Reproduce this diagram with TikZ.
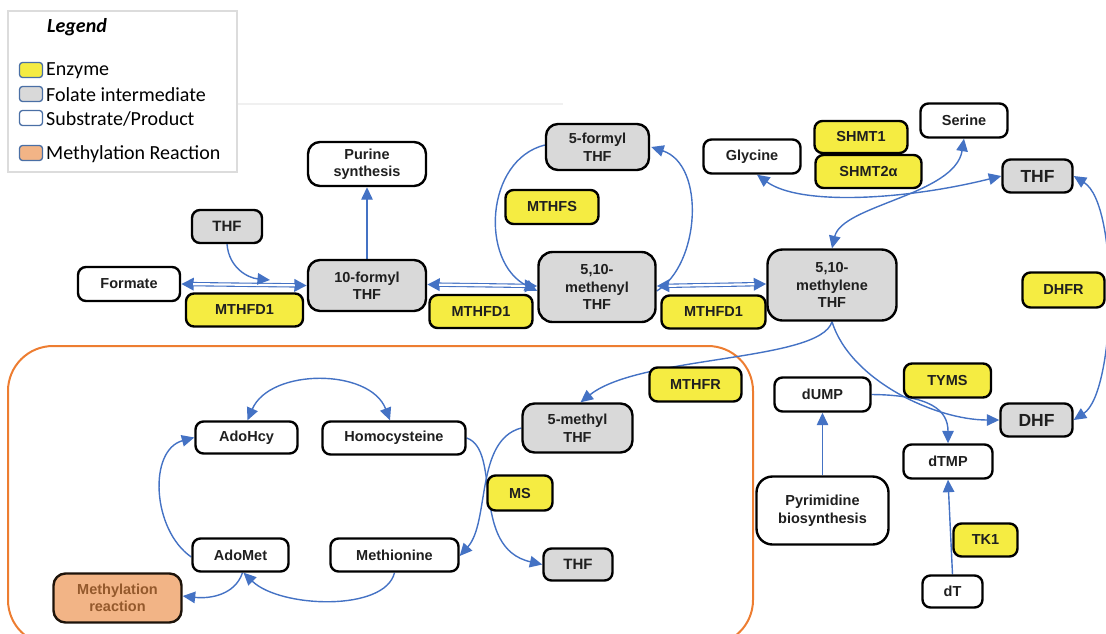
\documentclass[tikz,border=0pt]{standalone}
\usepackage{fontspec}
\setmainfont{Liberation Sans}
\newfontfamily\legendfont{Carlito}
\usetikzlibrary{arrows.meta,backgrounds}

\definecolor{arrowblue}{HTML}{4472C4}
\definecolor{enzyellow}{HTML}{F5EC42}
\definecolor{folgray}{HTML}{D9D9D9}
\definecolor{methfill}{HTML}{F2B486}
\definecolor{methtext}{HTML}{94592C}
\definecolor{boxorange}{HTML}{ED7D31}
\definecolor{legendedge}{HTML}{4A6FA5}
\definecolor{legendframe}{HTML}{DCDCDC}

\tikzset{
  sz/.style 2 args={minimum width=#1pt, minimum height=#2pt},
  base/.style={draw=black, line width=2.4pt, rounded corners=8pt, inner sep=0pt,
    align=center, font=\bfseries\fontsize{14.5}{17.5}\selectfont, text=black!88},
  enz/.style={base, fill=enzyellow},
  fol/.style={base, fill=folgray},
  sub/.style={base, fill=white},
  big/.style={rounded corners=12pt},
  meth/.style={base, fill=methfill, text=methtext, draw=black!85!brown},
  arr/.style={draw=arrowblue, line width=1.4pt, -{Triangle[length=12.5pt,width=11.5pt]}},
  barr/.style={draw=arrowblue, line width=1.4pt,
    {Triangle[length=12.5pt,width=11.5pt]}-{Triangle[length=12.5pt,width=11.5pt]}},
  % two-stroke reversible step: a wide blue stroke with solid heads,
  % then a white core laid along its middle
  dblbase/.style={draw=arrowblue, line width=4.4pt,
    {Triangle[length=12.5pt,width=12pt]}-{Triangle[length=12.5pt,width=12pt]}},
  dblcore/.style={draw=white, line width=2.2pt, shorten <=12pt, shorten >=12pt},
  swatch/.style={draw=legendedge, line width=1.3pt, rounded corners=3pt,
    minimum width=23pt, minimum height=15pt, inner sep=0pt},
  legtext/.style={anchor=west, inner sep=0pt, font=\legendfont\fontsize{20}{21}\selectfont}
}

\begin{document}
\begin{tikzpicture}[x=1pt,y=-1pt]
\useasboundingbox (0,0) rectangle (1106,633);
\clip (0,0) rectangle (1106,633);

% ---- folate cycle ----
\node[sub, sz={102}{34}] (formate) at (129,284) {Formate};
\node[enz, sz={117}{33}] (mthfdA) at (244.5,310) {MTHFD1};
\node[fol, sz={70}{33}, font=\bfseries\fontsize{15}{17}\selectfont] (thfA) at (227,226.5) {THF};
\node[fol, big, sz={118}{51}] (formylten) at (367,285.5) {10-formyl\\THF};
\node[sub, big, sz={118}{44}] (purine) at (367,164) {Purine\\synthesis};
\node[enz, sz={103}{33}] (mthfdB) at (481,311.5) {MTHFD1};
\node[fol, big, sz={117}{70}, rounded corners=14pt] (methenyl) at (597,287) {5,10-\\methenyl\\THF};
\node[fol, big, sz={103}{46}] (formylfive) at (597.5,147) {5-formyl\\THF};
\node[enz, sz={93}{34}] (mthfs) at (552,207) {MTHFS};
\node[enz, sz={104}{33}] (mthfdC) at (713.5,312) {MTHFD1};
\node[fol, big, sz={129}{71}, rounded corners=15pt] (methylene) at (832,285) {5,10-\\methylene\\THF};
\node[sub, sz={97}{34}] (glycine) at (752,156.5) {Glycine};
\node[enz, sz={93}{32}] (shmtone) at (861,137) {SHMT1};
\node[enz, sz={106}{33}] (shmttwo) at (868.5,171.5) {SHMT2α};
\node[sub, sz={87}{34}] (serine) at (964,120.5) {Serine};
\node[fol, sz={70}{33}, font=\bfseries\fontsize{17.5}{19}\selectfont] (thfR) at (1037.5,176) {THF};
\node[enz, sz={82}{35}] (dhfr) at (1063.5,290) {DHFR};
\node[enz, sz={87}{34}] (tyms) at (947.5,380.5) {TYMS};
\node[fol, sz={72}{33}, font=\bfseries\fontsize{17.5}{19}\selectfont] (dhf) at (1036.5,420) {DHF};
\node[sub, sz={96}{34}] (dump) at (822.5,394.5) {dUMP};
\node[sub, sz={89}{34}] (dtmp) at (948,461.5) {dTMP};
\node[sub, big, sz={132}{68}, rounded corners=16pt] (pyrimidine) at (822.5,510.5) {Pyrimidine\\biosynthesis};
\node[enz, sz={64}{33}] (tkone) at (985.5,540) {TK1};
\node[sub, sz={60}{32}] (dthy) at (952.5,591.5) {dT};

% ---- methionine cycle ----
\node[enz, sz={92}{34}] (mthfr) at (695.5,384.5) {MTHFR};
\node[fol, big, sz={110}{49}] (methylfive) at (577.5,428) {5-methyl\\THF};
\node[enz, sz={65}{35}] (ms) at (520,493) {MS};
\node[fol, sz={69}{32}, font=\bfseries\fontsize{15}{17}\selectfont] (thfB) at (578,564.5) {THF};
\node[sub, sz={102}{32}] (adohcy) at (246.5,437.5) {AdoHcy};
\node[sub, sz={143}{33}] (homocys) at (394,438) {Homocysteine};
\node[sub, sz={96}{33}] (adomet) at (240.5,555) {AdoMet};
\node[sub, sz={128}{33}] (methionine) at (394.5,555) {Methionine};
\node[meth, big, sz={128}{49}] (methylation) at (117.5,598) {Methylation\\reaction};

% ---- legend ----
\node[draw=legendframe, line width=1.3pt, minimum width=229pt, minimum height=161pt,
      inner sep=0pt] (legendbox) at (122.5,91.5) {};
\node[inner sep=0pt, font=\legendfont\bfseries\itshape\fontsize{20}{21}\selectfont]
      (legendtitle) at (77,27) {Legend};
\node[swatch, fill=enzyellow] (swenz) at (31,70) {};
\node[legtext] (lgenz) at (46,71) {Enzyme};
\node[swatch, fill=folgray] (swfol) at (31,94) {};
\node[legtext] (lgfol) at (46,95) {Folate intermediate};
\node[swatch, fill=white] (swsub) at (31,118) {};
\node[legtext] (lgsub) at (46,119) {Substrate/Product};
\node[swatch, fill=methfill] (swmeth) at (31,153) {};
\node[legtext] (lgmeth) at (46,154) {Methylation Reaction};

\begin{scope}[on background layer]
  % faint rule beside the legend
  \coordinate (ruleL) at (237,104);
  \coordinate (ruleR) at (563,104);
  \draw[black!6, line width=1.5pt] (ruleL) -- (ruleR);

  % frame around the methylation cycle
  \draw[boxorange, line width=2pt, rounded corners=45pt] (8,346) rectangle (753,645);

  % MTHFD1 steps (reversible, two strokes)
  \draw[dblbase] (formate.east) -- (formylten.west);
  \draw[dblcore] (formate.east) -- (formylten.west);
  \draw[dblbase] ([yshift=1pt]formylten.east) -- ([yshift=1pt]methenyl.west);
  \draw[dblcore] ([yshift=1pt]formylten.east) -- ([yshift=1pt]methenyl.west);
  \draw[dblbase] ([yshift=1pt]methenyl.east) -- ([yshift=1pt]methylene.west);
  \draw[dblcore] ([yshift=1pt]methenyl.east) -- ([yshift=1pt]methylene.west);
  \coordinate (thfjoin) at (270,280);
  \draw[arr] (thfA.south) .. controls (229,268) and (248,278) .. (thfjoin);
  \draw[arr] (formylten.north) -- (purine.south);

  % MTHFS loop
  \draw[arr] ([yshift=2pt]formylfive.west) .. controls (485,160) and (480,262) .. ([yshift=-4pt]methenyl.west);
  \draw[arr] ([yshift=-4pt]methenyl.east) .. controls (700,265) and (706,165) .. ([xshift=1pt]formylfive.east);

  % SHMT reaction
  \draw[barr] ([xshift=5pt]glycine.south) .. controls (800,206) and (905,200) .. (thfR.west);
  \draw[barr] (methylene.north) .. controls (842,205) and (955,195) .. (serine.south);

  % DHFR
  \draw[barr] (dhf.east) .. controls (1116,392) and (1120,205) .. (thfR.east);

  % TYMS
  \draw[arr] (methylene.south) .. controls (850,380) and (935,420) .. (dhf.west);
  \draw[arr] (dump.east) .. controls (930,395) and (948,410) .. (dtmp.north);
  \draw[arr] (pyrimidine.north) -- (dump.south);
  \draw[arr] (dthy.north) -- (dtmp.south);

  % MTHFR
  \draw[arr] (methylene.south) .. controls (820,362) and (640,355) .. ([xshift=3pt]methylfive.north);

  % MS
  \draw[arr] (methylfive.west) .. controls (475,440) and (490,522) .. ([yshift=-1pt]methionine.east);
  \draw[arr] (homocys.east) .. controls (502,450) and (470,548) .. (thfB.west);

  % methylation cycle
  \draw[barr] ([xshift=1pt]adohcy.north) .. controls (270,368) and (370,368) .. ([xshift=-4pt]homocys.north);
  \draw[arr] ([yshift=-2pt]adomet.west) .. controls (152,530) and (148,450) .. (adohcy.west);
  \draw[arr] (methionine.south) .. controls (385,612) and (280,608) .. ([xshift=3pt]adomet.south);
  \draw[arr] ([xshift=2pt]adomet.south) .. controls (235,595) and (210,599) .. ([yshift=2pt]methylation.east);
\end{scope}
\end{tikzpicture}
\end{document}
